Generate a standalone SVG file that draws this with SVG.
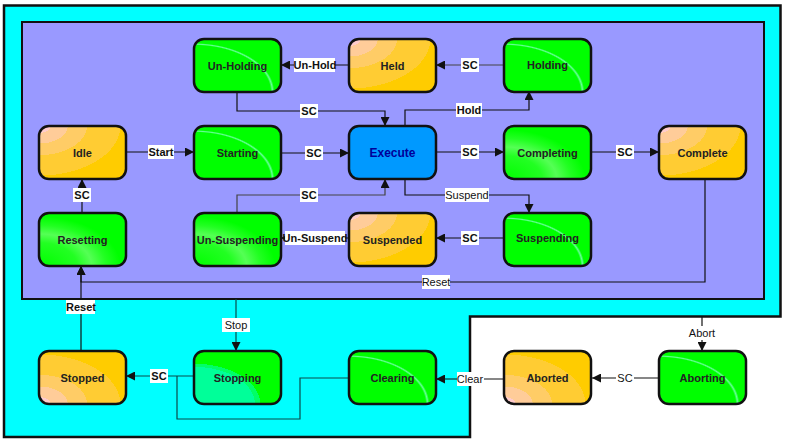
<svg xmlns="http://www.w3.org/2000/svg" width="787" height="444" viewBox="0 0 787 444">
<style>
.node rect{stroke:#111;stroke-width:2.5}
.node text{font-family:"Liberation Sans",Arial,sans-serif;font-size:11px;font-weight:bold;fill:#222;text-anchor:middle}
.conn path{fill:none;stroke:#111;stroke-width:1.2}
.lbl rect{fill:#fff}
.lbl text{font-family:"Liberation Sans",Arial,sans-serif;font-size:11px;font-weight:bold;fill:#111;text-anchor:middle}
.lbl text.n{font-weight:normal}
</style>
<defs>
<marker id="ah" viewBox="0 0 10 10" refX="10" refY="5" markerWidth="9" markerHeight="9" markerUnits="userSpaceOnUse" orient="auto">
<path d="M0,0 L10,5 L0,10 z" fill="#111"/>
</marker>
<radialGradient id="orTL" cx="0" cy="0" r="1.1">
<stop offset="0" stop-color="#ffcccc"/><stop offset="0.12" stop-color="#ffcccc"/>
<stop offset="0.12" stop-color="#ffcc99"/><stop offset="0.3" stop-color="#ffcc99"/>
<stop offset="0.3" stop-color="#ffcc66"/><stop offset="0.5" stop-color="#ffcc66"/>
<stop offset="0.5" stop-color="#ffcc33"/><stop offset="0.85" stop-color="#ffcc33"/>
<stop offset="0.85" stop-color="#ffcc00"/><stop offset="1" stop-color="#ffcc00"/>
</radialGradient>
<radialGradient id="orBL" cx="0" cy="1" r="1.1">
<stop offset="0" stop-color="#ffcccc"/><stop offset="0.12" stop-color="#ffcccc"/>
<stop offset="0.12" stop-color="#ffcc99"/><stop offset="0.3" stop-color="#ffcc99"/>
<stop offset="0.3" stop-color="#ffcc66"/><stop offset="0.5" stop-color="#ffcc66"/>
<stop offset="0.5" stop-color="#ffcc33"/><stop offset="0.85" stop-color="#ffcc33"/>
<stop offset="0.85" stop-color="#ffcc00"/><stop offset="1" stop-color="#ffcc00"/>
</radialGradient>
<radialGradient id="gr" cx="0" cy="1" r="1.1">
<stop offset="0" stop-color="#00ff00"/><stop offset="0.8" stop-color="#00ff00"/>
<stop offset="0.82" stop-color="#66ff99"/><stop offset="0.84" stop-color="#00ff00"/>
<stop offset="1" stop-color="#00ff00"/>
</radialGradient>
<radialGradient id="grB" cx="0" cy="1" r="1.1">
<stop offset="0" stop-color="#00ff00"/><stop offset="0.4" stop-color="#22ff22"/>
<stop offset="0.55" stop-color="#55ff55"/><stop offset="0.7" stop-color="#22ff22"/>
<stop offset="0.85" stop-color="#00ff00"/><stop offset="1" stop-color="#00ff00"/>
</radialGradient>
<radialGradient id="grS" cx="0" cy="1" r="1">
<stop offset="0" stop-color="#00ff99"/><stop offset="0.7" stop-color="#00ff99"/>
<stop offset="0.7" stop-color="#00ff66"/><stop offset="0.76" stop-color="#00ff66"/>
<stop offset="0.76" stop-color="#00ff00"/><stop offset="1" stop-color="#00ff00"/>
</radialGradient>
</defs>

<rect width="787" height="444" fill="#fff"/>
<polygon points="4,5.5 780.5,5.5 780.5,316.5 470,316.5 470,437 4,437" fill="#00ffff" stroke="#111" stroke-width="2.5"/>
<rect x="22" y="22" width="742" height="277" fill="#9999ff" stroke="#111" stroke-width="2"/>

<g class="conn">
<path d="M349,65 H281" marker-end="url(#ah)"/>
<path d="M504,65 H436" marker-end="url(#ah)" style="stroke:#444"/>
<path d="M237,92 V111 H385 V126" marker-end="url(#ah)"/>
<path d="M405,126 V110 H529 V91" marker-end="url(#ah)"/>
<path d="M126,152 H194" marker-end="url(#ah)"/>
<path d="M281,153 H349" marker-end="url(#ah)"/>
<path d="M436,152 H504" marker-end="url(#ah)"/>
<path d="M592,152 H659" marker-end="url(#ah)"/>
<path d="M82,213 V179" marker-end="url(#ah)"/>
<path d="M237,213 V195 H385 V179" marker-end="url(#ah)" style="stroke:#444"/>
<path d="M349,238 H281" marker-end="url(#ah)"/>
<path d="M504,238 H436" marker-end="url(#ah)"/>
<path d="M405,179 V195 H529 V213" marker-end="url(#ah)"/>
<path d="M705,179 V282 H81 V266" marker-end="url(#ah)"/>
<path d="M236,299 V351" marker-end="url(#ah)" style="stroke:#0a4a4a"/>
<path d="M81,351 V266" marker-end="url(#ah)"/>
<path d="M194,376 H126" marker-end="url(#ah)" style="stroke:#0a4a4a"/>
<path d="M349,378 H300 V419 H177 V376" style="stroke:#0a4a4a"/>
<path d="M504,379 H436" marker-end="url(#ah)"/>
<path d="M659,378 H592" marker-end="url(#ah)"/>
<path d="M702,317 V351" marker-end="url(#ah)"/>
</g>

<g class="lbl">
<rect x="294" y="58" width="41" height="14"/><text x="315" y="69">Un-Hold</text>
<rect x="461" y="58" width="18" height="14"/><text x="470" y="69">SC</text>
<rect x="300" y="104" width="18" height="14"/><text x="309" y="115">SC</text>
<rect x="456" y="103" width="26" height="14"/><text x="469" y="114">Hold</text>
<rect x="148" y="145" width="26" height="14"/><text x="161" y="156">Start</text>
<rect x="305" y="146" width="18" height="14"/><text x="314" y="157">SC</text>
<rect x="461" y="145" width="18" height="14"/><text x="470" y="156">SC</text>
<rect x="616" y="145" width="18" height="14"/><text x="625" y="156">SC</text>
<rect x="73" y="188" width="18" height="14"/><text x="82" y="199">SC</text>
<rect x="300" y="188" width="18" height="14"/><text x="309" y="199">SC</text>
<rect x="285" y="231" width="60" height="14"/><text x="315" y="242">Un-Suspend</text>
<rect x="461" y="231" width="18" height="14"/><text x="470" y="242">SC</text>
<rect x="445" y="188" width="44" height="14"/><text x="467" y="199" class="n">Suspend</text>
<rect x="422" y="275" width="28" height="14"/><text x="436" y="286" class="n">Reset</text>
<rect x="222" y="318" width="28" height="14"/><text x="236" y="329" class="n">Stop</text>
<rect x="66" y="300" width="29" height="14"/><text x="81" y="311">Reset</text>
<rect x="150" y="369" width="18" height="14"/><text x="159" y="380">SC</text>
<rect x="457" y="372" width="27" height="14"/><text x="470" y="383" class="n">Clear</text>
<rect x="616" y="371" width="18" height="14"/><text x="625" y="382" class="n">SC</text>
<rect x="686" y="326" width="32" height="14"/><text x="702" y="337" class="n">Abort</text>
</g>

<g id="un-holding" class="node"><rect x="194" y="39" width="87" height="53" rx="10" fill="url(#gr)"/><text x="237.5" y="69.5">Un-Holding</text></g>
<g id="held" class="node"><rect x="349" y="39" width="87" height="53" rx="10" fill="url(#orTL)"/><text x="392.5" y="69.5">Held</text></g>
<g id="holding" class="node"><rect x="504" y="39" width="87" height="53" rx="10" fill="url(#gr)"/><text x="547.5" y="68.5">Holding</text></g>
<g id="idle" class="node"><rect x="39" y="126" width="87" height="53" rx="10" fill="url(#orTL)"/><text x="82.5" y="156.5">Idle</text></g>
<g id="starting" class="node"><rect x="194" y="126" width="87" height="53" rx="10" fill="url(#gr)"/><text x="237.5" y="156.5">Starting</text></g>
<g id="execute" class="node"><rect x="349" y="126" width="87" height="53" rx="10" fill="#0099ff"/><text x="392.5" y="156.5" style="fill:#000099;font-size:12px">Execute</text></g>
<g id="completing" class="node"><rect x="504" y="126" width="87" height="53" rx="10" fill="url(#grB)"/><text x="547.5" y="156.5">Completing</text></g>
<g id="complete" class="node"><rect x="659" y="126" width="87" height="53" rx="10" fill="url(#orTL)"/><text x="702.5" y="156.5">Complete</text></g>
<g id="resetting" class="node"><rect x="39" y="213" width="87" height="53" rx="10" fill="url(#grB)"/><text x="82.5" y="243.5">Resetting</text></g>
<g id="un-suspending" class="node"><rect x="194" y="213" width="87" height="53" rx="10" fill="url(#grB)"/><text x="237.5" y="243.5">Un-Suspending</text></g>
<g id="suspended" class="node"><rect x="349" y="213" width="87" height="53" rx="10" fill="url(#orTL)"/><text x="392.5" y="243.5">Suspended</text></g>
<g id="suspending" class="node"><rect x="504" y="213" width="87" height="53" rx="10" fill="url(#gr)"/><text x="547.5" y="241.5">Suspending</text></g>
<g id="stopped" class="node"><rect x="39" y="351" width="87" height="53" rx="10" fill="url(#orBL)"/><text x="82.5" y="381.5">Stopped</text></g>
<g id="stopping" class="node"><rect x="194" y="351" width="87" height="53" rx="10" fill="url(#grS)"/><text x="237.5" y="381.5">Stopping</text></g>
<g id="clearing" class="node"><rect x="349" y="351" width="87" height="53" rx="10" fill="url(#gr)"/><text x="392.5" y="381.5">Clearing</text></g>
<g id="aborted" class="node"><rect x="504" y="351" width="87" height="53" rx="10" fill="url(#orBL)"/><text x="547.5" y="381.5">Aborted</text></g>
<g id="aborting" class="node"><rect x="659" y="351" width="87" height="53" rx="10" fill="url(#gr)"/><text x="702.5" y="381.5">Aborting</text></g>
</svg>
